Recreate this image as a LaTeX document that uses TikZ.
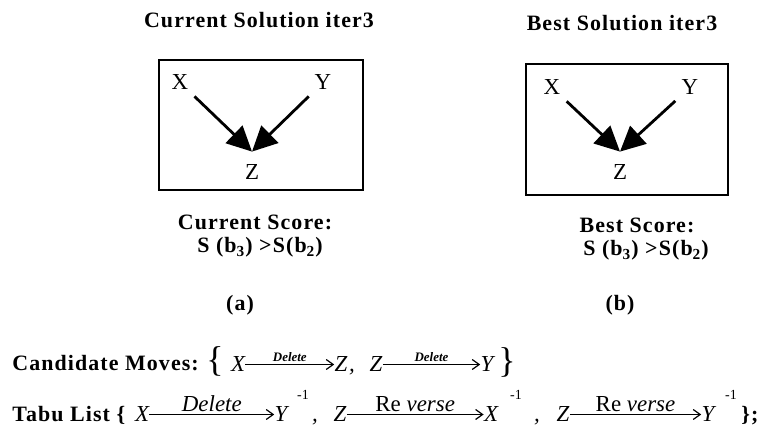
\documentclass[tikz,border=0pt]{standalone}
\usepackage{fontspec}
\setmainfont{Liberation Serif}
\newfontfamily\spacedfont[LetterSpace=5]{Liberation Serif}
\usepackage{tikz}
\usetikzlibrary{arrows.meta}

\begin{document}
\begin{tikzpicture}[x=0.5bp,y=-0.5bp,
    head/.style={font=\spacedfont\bfseries\fontsize{11}{13}\selectfont,inner sep=0pt,anchor=base},
    vertex/.style={font=\fontsize{11.5}{13}\selectfont,inner sep=3bp,anchor=base},
    var/.style={font=\itshape\fontsize{11.5}{13}\selectfont,inner sep=0pt,anchor=base},
    sup/.style={font=\fontsize{7}{8}\selectfont,inner sep=0pt,anchor=base},
    edge/.style={-{Triangle[length=12.5bp,width=12bp]},line width=1.4bp},
    move/.style={-{Straight Barb[length=3.5bp,width=5bp]},line width=0.6bp}]
  \useasboundingbox (0,0) rectangle (768,439);

  % (a) current solution
  \node[head] (cur) at (259,28) {Current Solution iter3};
  \draw[line width=1bp] (159,60) rectangle (363,190);
  \node[vertex] (xa) at (180,90) {X};
  \node[vertex] (ya) at (323,90) {Y};
  \node[vertex,inner ysep=6.5bp] (za) at (252,180) {Z};
  \draw[edge] (xa) -- (za.north);
  \draw[edge] (ya) -- (za.north);
  \node[head] (cs) at (255,230) {Current Score:};
  \node[head] (csv) at (260,253) {S (b\textsubscript{3}) >S(b\textsubscript{2})};
  \node[head] (la) at (240,311) {(a)};

  % (b) best solution
  \node[head] (best) at (622,31) {Best Solution iter3};
  \draw[line width=1bp] (526,64) rectangle (728,195);
  \node[vertex] (xb) at (552,95) {X};
  \node[vertex] (yb) at (690,95) {Y};
  \node[vertex,inner ysep=6.5bp] (zb) at (620,180) {Z};
  \draw[edge] (xb) -- (zb.north);
  \draw[edge] (yb) -- (zb.north);
  \node[head] (bs) at (637,233) {Best Score:};
  \node[head] (bsv) at (646,256) {S (b\textsubscript{3}) >S(b\textsubscript{2})};
  \node[head] (lb) at (620,311) {(b)};

  % candidate moves
  \node[head,anchor=base west] (cm) at (12,371) {Candidate Moves:};
  \node[font=\fontsize{18}{18}\selectfont,inner sep=0pt] (lbr) at (215,361) {\{};
  \node[var] (x1) at (238,372) {X};
  \node[var] (z1) at (341,372) {Z};
  \node[var] (c0) at (352,372) {,};
  \node[var] (z2) at (376,372) {Z};
  \node[var] (y1) at (487,372) {Y};
  \node[font=\fontsize{18}{18}\selectfont,inner sep=0pt] (rbr) at (507,362) {\}};
  \draw[move] (x1) -- node[above=1bp,font=\bfseries\itshape\fontsize{6.5}{7}\selectfont,inner sep=0pt] {Delete} (z1);
  \draw[move] (z2) -- node[above=1bp,font=\bfseries\itshape\fontsize{6.5}{7}\selectfont,inner sep=0pt] {Delete} (y1);

  % tabu list
  \node[head,anchor=base west] (tl) at (12,422) {Tabu List \{};
  \node[var] (x2) at (142,422) {X};
  \node[var] (y2) at (281,422) {Y};
  \node[sup] (s1) at (303,400) {-1};
  \node[var] (c1) at (315,422) {,};
  \node[var] (z3) at (340,422) {Z};
  \node[var] (x3) at (491,422) {X};
  \node[sup] (s2) at (516,400) {-1};
  \node[var] (c2) at (537,422) {,};
  \node[var] (z4) at (563,422) {Z};
  \node[var] (y3) at (708,422) {Y};
  \node[sup] (s3) at (731,400) {-1};
  \node[head] (end) at (750,422) {\};};
  \draw[move] (x2) -- node[above=1bp,font=\itshape\fontsize{11.5}{13}\selectfont,inner sep=0pt] {Delete} (y2);
  \draw[move] (z3) -- node[above=1bp,font=\fontsize{11.5}{13}\selectfont,inner sep=0pt] {Re \textit{verse}} (x3);
  \draw[move] (z4) -- node[above=1bp,font=\fontsize{11.5}{13}\selectfont,inner sep=0pt] {Re \textit{verse}} (y3);
\end{tikzpicture}
\end{document}
